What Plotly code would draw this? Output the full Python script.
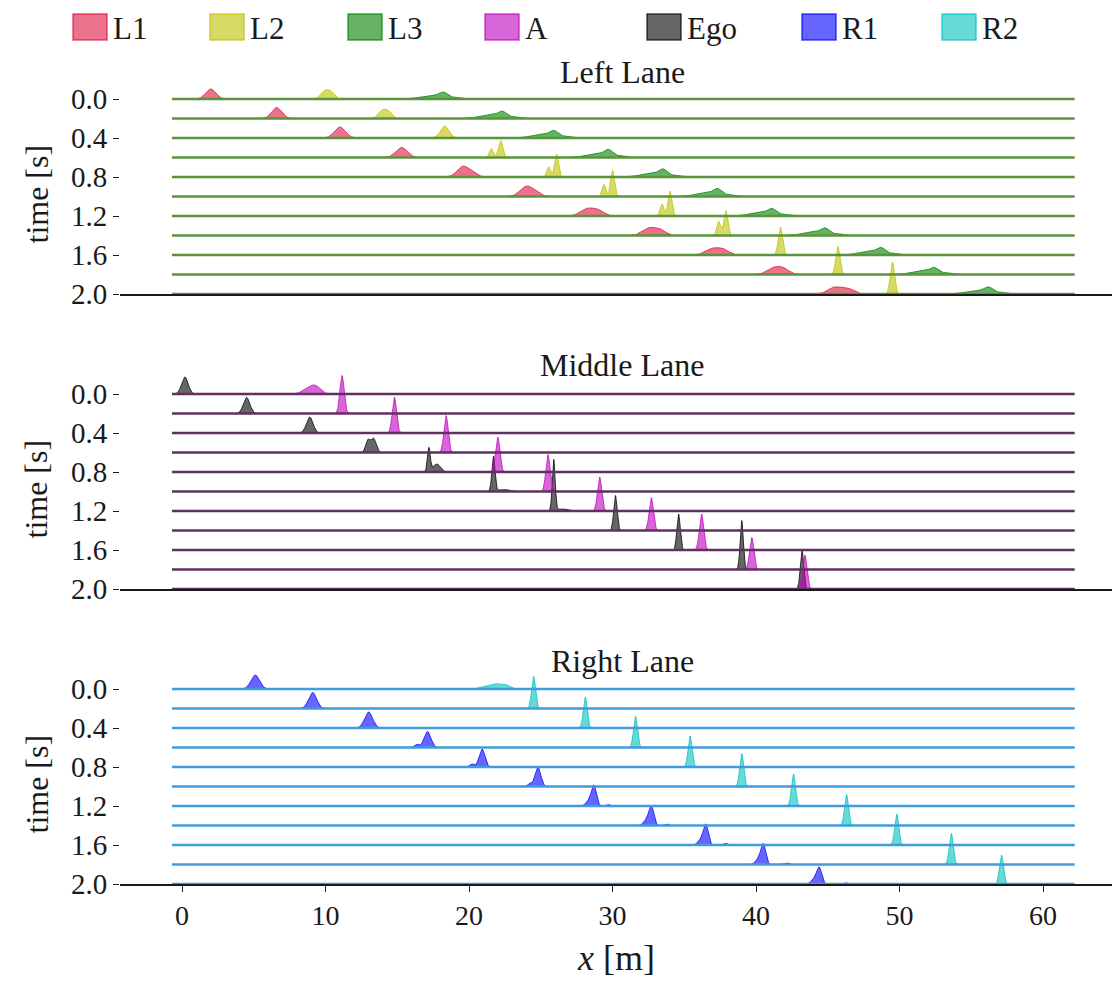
import numpy as np
import plotly.graph_objects as go

# ---------------- data ----------------
TIMES = [0.0, 0.2, 0.4, 0.6, 0.8, 1.0, 1.2, 1.4, 1.6, 1.8, 2.0]
Y_TICKS = [0.0, 0.4, 0.8, 1.2, 1.6, 2.0]
Y_TICK_LABELS = ["0.0", "0.4", "0.8", "1.2", "1.6", "2.0"]
X_TICKS = [0, 10, 20, 30, 40, 50, 60]
LANE_TITLES = ["Left Lane", "Middle Lane", "Right Lane"]
LANE_VEHICLES = [["L1", "L2", "L3"], ["Ego", "A"], ["R1", "R2"]]
LEGEND_ORDER = ["L1", "L2", "L3", "A", "Ego", "R1", "R2"]
ROAD_EXTENT = [-0.7, 62.2]

# peak centre [m], peak height [s-axis units], spread [m]; secondary bumps as offsets
L1_center = [2.0, 6.6, 11.0, 15.3, 19.5, 23.9, 28.2, 32.5, 36.9, 41.2, 45.4]
L1_height = [0.103, 0.113, 0.113, 0.103, 0.092, 0.087, 0.072, 0.072, 0.062, 0.062, 0.062]
L1_sigma = [0.35, 0.35, 0.38, 0.40, 0.38, 0.40, 0.45, 0.45, 0.45, 0.45, 0.42]
L1_side_off = [0, 0, 0, 0, 0.6, 0.6, 0.8, 0.8, 0.8, 0.7, 0.9]
L1_side_h = [0, 0, 0, 0, 0.05, 0.05, 0.055, 0.055, 0.055, 0.055, 0.06]
L1_side_sig = [0.4, 0.4, 0.4, 0.4, 0.4, 0.4, 0.4, 0.4, 0.4, 0.4, 0.45]

L2_center = [9.9, 13.9, 18.3, 22.2, 26.1, 30.0, 34.0, 37.9, 41.7, 45.7, 49.5]
L2_height = [0.072, 0.072, 0.123, 0.174, 0.236, 0.267, 0.256, 0.256, 0.287, 0.287, 0.328]
L2_sigma = [0.25, 0.25, 0.30, 0.15, 0.14, 0.14, 0.14, 0.14, 0.15, 0.15, 0.15]
L2_side_off = [0.45, 0.45, 0, -0.65, -0.55, -0.6, -0.55, -0.5, 0, 0, 0]
L2_side_h = [0.072, 0.072, 0, 0.092, 0.103, 0.123, 0.123, 0.144, 0, 0, 0]
L2_side_sig = [0.25, 0.25, 0.2, 0.13, 0.13, 0.13, 0.13, 0.13, 0.13, 0.13, 0.13]

L3_center = [18.2, 22.3, 25.9, 29.7, 33.5, 37.3, 41.1, 44.8, 48.7, 52.4, 56.2]
L3_height = [0.055, 0.06, 0.062, 0.067, 0.067, 0.067, 0.062, 0.062, 0.062, 0.057, 0.057]
L3_sigma = [0.3] * 11
L3_side_off = [-0.9] * 11
L3_side_h = [0.035] * 11
L3_side_sig = [0.7] * 11
L3_tail_off = [0.9] * 11
L3_tail_h = [0.015] * 11
L3_tail_sig = [0.45] * 11

Ego_center = [0.2, 4.5, 8.9, 13.35, 17.2, 21.7, 25.9, 30.2, 34.6, 39.0, 43.2]
Ego_height = [0.174, 0.164, 0.164, 0.144, 0.246, 0.359, 0.523, 0.359, 0.369, 0.503, 0.400]
Ego_sigma = [0.23, 0.23, 0.23, 0.18, 0.10, 0.11, 0.10, 0.12, 0.12, 0.11, 0.12]
Ego_side_off = [0, 0, 0, -0.4, 0.55, 0.7, 0.6, 0, 0, 0, 0]
Ego_side_h = [0, 0, 0, 0.123, 0.082, 0.021, 0.021, 0, 0, 0, 0]
Ego_side_sig = [0.2, 0.2, 0.2, 0.15, 0.25, 0.4, 0.4, 0.2, 0.2, 0.2, 0.2]

A_center = [9.3, 11.15, 14.8, 18.4, 22.0, 25.5, 29.1, 32.7, 36.2, 39.7, 43.4]
A_height = [0.08, 0.390, 0.369, 0.379, 0.359, 0.379, 0.349, 0.338, 0.369, 0.328, 0.349]
A_sigma = [0.35, 0.15, 0.15, 0.15, 0.15, 0.15, 0.15, 0.15, 0.15, 0.15, 0.15]
A_side_off = [-0.6, 0, 0, 0, 0, 0, 0, 0, 0, 0, 0]
A_side_h = [0.045, 0, 0, 0, 0, 0, 0, 0, 0, 0, 0]
A_side_sig = [0.35] * 11

R1_center = [5.1, 9.1, 13.0, 17.1, 20.9, 24.8, 28.7, 32.7, 36.5, 40.5, 44.4]
R1_height = [0.144, 0.164, 0.164, 0.164, 0.185, 0.195, 0.205, 0.195, 0.205, 0.205, 0.164]
R1_sigma = [0.30, 0.28, 0.28, 0.24, 0.20, 0.20, 0.17, 0.17, 0.17, 0.17, 0.17]
R1_side_off = [0, 0, 0, -0.75, -0.7, -0.55, -0.35, -0.35, -0.35, -0.35, -0.35]
R1_side_h = [0, 0, 0, 0.031, 0.031, 0.031, 0.05, 0.05, 0.05, 0.05, 0.05]
R1_side_sig = [0.15, 0.15, 0.15, 0.15, 0.15, 0.15, 0.2, 0.2, 0.2, 0.2, 0.2]
R1_tail_off = [0, 0, 0, 0, 0, 0, 1.0, 1.1, 1.4, 1.7, 1.8]
R1_tail_h = [0, 0, 0, 0, 0, 0, 0.015, 0.015, 0.015, 0.015, 0.015]
R1_tail_sig = [0.15] * 11

R2_center = [22.4, 24.5, 28.1, 31.6, 35.4, 39.0, 42.6, 46.3, 49.8, 53.6, 57.1]
R2_height = [0.05, 0.328, 0.318, 0.318, 0.318, 0.338, 0.328, 0.318, 0.318, 0.318, 0.297]
R2_sigma = [0.35, 0.14, 0.14, 0.14, 0.14, 0.14, 0.14, 0.14, 0.14, 0.14, 0.14]
R2_side_off = [-0.7, 0, 0, 0, 0, 0, 0, 0, 0, 0, 0]
R2_side_h = [0.045, 0, 0, 0, 0, 0, 0, 0, 0, 0, 0]
R2_side_sig = [0.3] * 11
R2_tail_off = [-1.4, 0, 0, 0, 0, 0, 0, 0, 0, 0, 0]
R2_tail_h = [0.02, 0, 0, 0, 0, 0, 0, 0, 0, 0, 0]
R2_tail_sig = [0.3] * 11

PEAKS = {
    "L1": [(L1_center, L1_height, L1_sigma), (L1_side_off, L1_side_h, L1_side_sig)],
    "L2": [(L2_center, L2_height, L2_sigma), (L2_side_off, L2_side_h, L2_side_sig)],
    "L3": [(L3_center, L3_height, L3_sigma), (L3_side_off, L3_side_h, L3_side_sig),
           (L3_tail_off, L3_tail_h, L3_tail_sig)],
    "Ego": [(Ego_center, Ego_height, Ego_sigma), (Ego_side_off, Ego_side_h, Ego_side_sig)],
    "A": [(A_center, A_height, A_sigma), (A_side_off, A_side_h, A_side_sig)],
    "R1": [(R1_center, R1_height, R1_sigma), (R1_side_off, R1_side_h, R1_side_sig),
           (R1_tail_off, R1_tail_h, R1_tail_sig)],
    "R2": [(R2_center, R2_height, R2_sigma), (R2_side_off, R2_side_h, R2_side_sig),
           (R2_tail_off, R2_tail_h, R2_tail_sig)],
}

# ---------------- styles ----------------
VEH_RGB = {"L1": (220, 20, 60), "L2": (191, 191, 0), "L3": (0, 128, 0), "A": (191, 0, 191),
           "Ego": (0, 0, 0), "R1": (0, 0, 255), "R2": (0, 191, 191)}
LANE_LINE = ["rgb(88,148,58)", "rgb(96,48,96)", "rgb(62,156,222)"]
FONT = "Liberation Serif"
W = 1112
H_REF = 982          # layout positions are given in reference pixels
H_FIG = 998          # figure height (compensates the vertical squeeze of the capture)


def rgba(c, a):
    return "rgba(%d,%d,%d,%.2f)" % (c[0], c[1], c[2], a)


def fx(px):
    return px / W


def fy(px):
    return 1 - px / H_REF


PANEL_BOTTOM = [294, 589, 884]
ROW_PX = 19.5
Y_RANGE = [2.0, -0.2]
X_RANGE = [-4.32, 64.8]
X_DOMAIN = [fx(120), 1.0]

fig = go.Figure()

for li, vehicles in enumerate(LANE_VEHICLES):
    ax = "" if li == 0 else str(li + 1)
    xref, yref = "x" + ax, "y" + ax
    for veh in vehicles:
        comps = PEAKS[veh]
        xs_all, ys_all = [], []
        for ti, t in enumerate(TIMES):
            c0 = comps[0][0][ti]
            grid = np.linspace(c0 - 4.0, c0 + 4.0, 321)
            dens = comps[0][1][ti] * np.exp(-0.5 * ((grid - c0) / comps[0][2][ti]) ** 2)
            for off, hh, sg in comps[1:]:
                if hh[ti] > 0:
                    dens = dens + hh[ti] * np.exp(-0.5 * ((grid - c0 - off[ti]) / sg[ti]) ** 2)
            idx = np.where(dens > 0.0015)[0]
            g = grid[idx[0]:idx[-1] + 1]
            d = dens[idx[0]:idx[-1] + 1]
            xs_all += list(g) + list(g[::-1]) + [None]
            ys_all += list(t - d) + [t] * len(g) + [None]
        col = VEH_RGB[veh]
        fig.add_trace(go.Scatter(
            x=xs_all, y=ys_all, mode="lines", fill="toself",
            fillcolor=rgba(col, 0.6), line=dict(color=rgba(col, 0.75), width=1),
            xaxis=xref, yaxis=yref, hoverinfo="skip", showlegend=False))
    bx, by = [], []
    for t in TIMES:
        bx += [ROAD_EXTENT[0], ROAD_EXTENT[1], None]
        by += [t, t, None]
    fig.add_trace(go.Scatter(x=bx, y=by, mode="lines",
                             line=dict(color=LANE_LINE[li], width=2.6),
                             xaxis=xref, yaxis=yref, hoverinfo="skip", showlegend=False))

    bottom = PANEL_BOTTOM[li]
    top = bottom - (Y_RANGE[0] - Y_RANGE[1]) / 0.2 * ROW_PX
    is_last = li == 2
    fig.update_layout(**{
        "xaxis" + ax: dict(domain=X_DOMAIN, range=X_RANGE, anchor=yref, showgrid=False,
                           zeroline=False, showline=True, linecolor="#1a1a1a", linewidth=1.6,
                           ticks="outside" if is_last else "", ticklen=6, tickwidth=1.3,
                           tickcolor="#1a1a1a", tickvals=X_TICKS, showticklabels=is_last,
                           tickfont=dict(family=FONT, size=28, color="#1a1a1a")),
        "yaxis" + ax: dict(domain=[fy(bottom), fy(top)], range=Y_RANGE, anchor=xref,
                           showgrid=False, zeroline=False, showline=False,
                           tickvals=Y_TICKS, ticktext=Y_TICK_LABELS, ticks="outside",
                           ticklen=6, tickwidth=1.3, tickcolor="#1a1a1a",
                           tickfont=dict(family=FONT, size=29, color="#1a1a1a")),
    })

annotations = []
TITLE_Y = [72, 365, 661]
for li, title in enumerate(LANE_TITLES):
    annotations.append(dict(text=title, x=fx(622), y=fy(TITLE_Y[li]), xref="paper", yref="paper",
                            showarrow=False, xanchor="center", yanchor="middle",
                            font=dict(family=FONT, size=32, color="#1a1a1a")))
    mid = PANEL_BOTTOM[li] - 5 * ROW_PX - 2
    annotations.append(dict(text="time [s]", x=fx(36), y=fy(mid), xref="paper", yref="paper",
                            showarrow=False, textangle=-90, xanchor="center", yanchor="middle",
                            font=dict(family=FONT, size=32, color="#1a1a1a")))
annotations.append(dict(text="<i>x</i> [m]", x=fx(616), y=fy(958), xref="paper", yref="paper",
                        showarrow=False, xanchor="center", yanchor="middle",
                        font=dict(family=FONT, size=36, color="#1a1a1a")))

# legend (manual, matplotlib-style patches)
LEG_X = [73, 210, 348, 485, 647, 802, 942]
shapes = []
for k, veh in enumerate(LEGEND_ORDER):
    col = VEH_RGB[veh]
    x0 = LEG_X[k]
    shapes.append(dict(type="rect", xref="paper", yref="paper", x0=fx(x0), x1=fx(x0 + 34),
                       y0=fy(40), y1=fy(14), fillcolor=rgba(col, 0.6),
                       line=dict(color=rgba(col, 0.7), width=1.5)))
    annotations.append(dict(text=veh, x=fx(x0 + 38), y=fy(28), xref="paper", yref="paper",
                            showarrow=False, xanchor="left", yanchor="middle",
                            font=dict(family=FONT, size=31, color="#1a1a1a")))

fig.update_layout(width=W, height=H_FIG, margin=dict(l=0, r=0, t=0, b=0),
                  plot_bgcolor="white", paper_bgcolor="white", showlegend=False,
                  annotations=annotations, shapes=shapes,
                  font=dict(family=FONT, color="#1a1a1a"))

fig.write_html("out.html", config={"displayModeBar": False},
               post_script="document.body.style.margin='0';"
                           "document.body.style.overflow='hidden';"
                           "document.documentElement.style.overflow='hidden';")
